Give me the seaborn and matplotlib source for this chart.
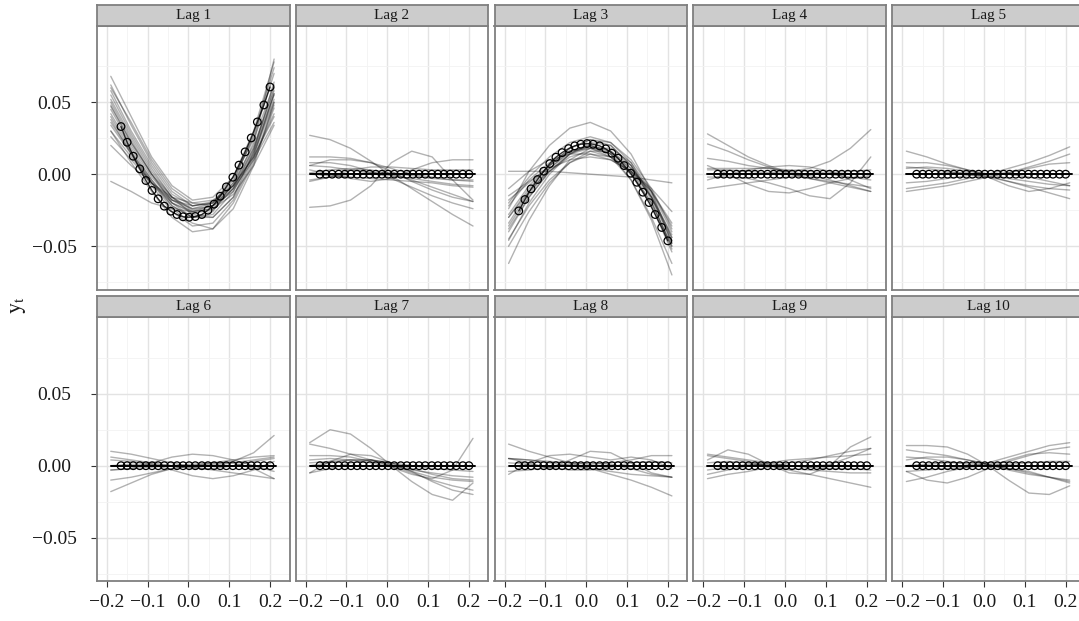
import numpy as np
import pandas as pd
import matplotlib
matplotlib.use("Agg")
import matplotlib.pyplot as plt
import seaborn as sns
from matplotlib.ticker import FixedLocator

sns.set_style("white")
plt.rcParams["font.family"] = ["Liberation Serif", "DejaVu Serif"]
plt.rcParams["mathtext.fontset"] = "stix"

# ---------------- data ----------------
panel_titles = ["Lag 1", "Lag 2", "Lag 3", "Lag 4", "Lag 5",
                "Lag 6", "Lag 7", "Lag 8", "Lag 9", "Lag 10"]

circle_x = [-0.165, -0.150, -0.135, -0.119, -0.104, -0.089, -0.074, -0.059,
            -0.043, -0.028, -0.013, 0.002, 0.017, 0.033, 0.048, 0.063,
            0.078, 0.093, 0.109, 0.124, 0.139, 0.154, 0.169, 0.185, 0.200]

lag1_est = [0.0331, 0.0222, 0.0125, 0.0037, -0.0044, -0.0113, -0.0171, -0.0222,
            -0.0257, -0.0280, -0.0296, -0.0299, -0.0294, -0.0280, -0.0250, -0.0208,
            -0.0153, -0.0088, -0.0021, 0.0063, 0.0155, 0.0252, 0.0363, 0.0481, 0.0606]
lag3_est = [-0.0255, -0.0176, -0.0102, -0.0037, 0.0021, 0.0074, 0.0118, 0.0150,
            0.0178, 0.0197, 0.0208, 0.0213, 0.0208, 0.0197, 0.0176, 0.0146,
            0.0111, 0.0060, 0.0007, -0.0056, -0.0125, -0.0197, -0.0280, -0.0370, -0.0463]
zero_est = [0.0] * 25

flat_line_x = [-0.19, 0.215]
flat_line_y = [0.0, 0.0]

curve_x = [-0.19, -0.14, -0.09, -0.04, 0.01, 0.06, 0.11, 0.16, 0.21]

lag1_curves = [
    [0.068, 0.040, 0.012, -0.008, -0.018, -0.016, -0.002, 0.024, 0.062],
    [0.062, 0.034, 0.008, -0.012, -0.022, -0.020, -0.006, 0.020, 0.058],
    [0.055, 0.028, 0.004, -0.016, -0.025, -0.022, -0.008, 0.018, 0.055],
    [0.048, 0.022, 0.000, -0.018, -0.026, -0.024, -0.010, 0.016, 0.052],
    [0.042, 0.018, -0.004, -0.022, -0.030, -0.028, -0.012, 0.014, 0.050],
    [0.038, 0.014, -0.008, -0.026, -0.036, -0.034, -0.018, 0.010, 0.048],
    [0.030, 0.008, -0.012, -0.030, -0.040, -0.038, -0.020, 0.008, 0.046],
    [0.020, 0.006, -0.006, -0.016, -0.020, -0.018, -0.008, 0.012, 0.040],
    [0.026, 0.010, -0.006, -0.018, -0.022, -0.019, -0.008, 0.012, 0.042],
    [0.045, 0.020, -0.002, -0.018, -0.024, -0.020, -0.004, 0.026, 0.070],
    [0.058, 0.030, 0.006, -0.014, -0.022, -0.020, -0.002, 0.030, 0.078],
    [0.036, 0.015, -0.004, -0.020, -0.027, -0.025, -0.010, 0.018, 0.060],
    [-0.005, -0.012, -0.020, -0.024, -0.026, -0.022, -0.010, 0.010, 0.036],
    [0.052, 0.026, 0.002, -0.016, -0.028, -0.030, -0.016, 0.016, 0.064],
    [0.040, 0.016, -0.006, -0.024, -0.034, -0.038, -0.024, 0.006, 0.050],
    [0.060, 0.036, 0.010, -0.010, -0.020, -0.022, -0.012, 0.014, 0.056],
    [0.034, 0.014, -0.006, -0.022, -0.030, -0.030, -0.016, 0.012, 0.056],
    [0.050, 0.024, 0.000, -0.020, -0.030, -0.026, -0.006, 0.028, 0.074],
    [0.047, 0.022, 0.000, -0.016, -0.024, -0.022, -0.008, 0.022, 0.080],
    [0.030, 0.012, -0.006, -0.020, -0.026, -0.024, -0.014, 0.006, 0.034],
]
lag2_curves = [
    [0.027, 0.024, 0.018, 0.009, -0.001, -0.010, -0.019, -0.028, -0.036],
    [-0.023, -0.022, -0.018, -0.008, 0.008, 0.016, 0.012, -0.004, -0.018],
    [0.012, 0.012, 0.011, 0.008, 0.002, -0.005, -0.011, -0.016, -0.019],
    [0.006, 0.010, 0.010, 0.008, 0.004, 0.000, -0.002, -0.004, -0.005],
    [0.003, 0.000, -0.003, -0.005, -0.003, 0.003, 0.008, 0.010, 0.010],
    [-0.005, -0.002, 0.003, 0.005, 0.005, 0.004, 0.003, 0.003, 0.003],
    [0.006, 0.005, 0.003, 0.001, -0.001, -0.003, -0.005, -0.007, -0.008],
    [0.000, -0.001, -0.002, -0.003, -0.004, -0.005, -0.006, -0.008, -0.009],
    [0.008, 0.008, 0.006, 0.002, -0.003, -0.009, -0.015, -0.020, -0.024],
    [-0.004, -0.002, 0.000, 0.001, 0.001, -0.001, -0.003, -0.004, -0.004],
    [0.001, 0.003, 0.004, 0.003, 0.000, -0.004, -0.009, -0.014, -0.019],
]
lag3_curves = [
    [-0.040, -0.016, 0.002, 0.014, 0.020, 0.016, 0.002, -0.020, -0.050],
    [-0.034, -0.012, 0.004, 0.015, 0.019, 0.014, 0.000, -0.022, -0.054],
    [-0.028, -0.008, 0.006, 0.016, 0.020, 0.016, 0.004, -0.016, -0.044],
    [-0.046, -0.020, 0.000, 0.014, 0.022, 0.020, 0.006, -0.018, -0.052],
    [-0.062, -0.032, -0.008, 0.010, 0.018, 0.018, 0.008, -0.012, -0.040],
    [-0.020, -0.002, 0.012, 0.022, 0.026, 0.022, 0.008, -0.016, -0.048],
    [-0.024, 0.002, 0.020, 0.032, 0.036, 0.030, 0.014, -0.012, -0.048],
    [0.002, 0.002, 0.002, 0.001, 0.000, -0.001, -0.002, -0.004, -0.006],
    [-0.015, -0.005, 0.004, 0.010, 0.012, 0.010, 0.002, -0.012, -0.034],
    [-0.036, -0.014, 0.004, 0.016, 0.020, 0.014, -0.004, -0.032, -0.070],
    [-0.030, -0.010, 0.006, 0.018, 0.024, 0.020, 0.006, -0.016, -0.046],
    [-0.045, -0.022, -0.004, 0.008, 0.014, 0.012, 0.002, -0.016, -0.042],
    [-0.010, 0.002, 0.010, 0.014, 0.014, 0.010, 0.002, -0.010, -0.026],
    [-0.030, -0.012, 0.002, 0.012, 0.016, 0.012, 0.000, -0.020, -0.050],
    [-0.038, -0.016, 0.002, 0.014, 0.018, 0.012, -0.004, -0.030, -0.062],
    [-0.018, -0.006, 0.006, 0.018, 0.024, 0.022, 0.010, -0.010, -0.038],
    [-0.050, -0.026, -0.006, 0.008, 0.016, 0.016, 0.006, -0.014, -0.044],
    [-0.022, -0.004, 0.008, 0.016, 0.018, 0.014, 0.004, -0.012, -0.036],
]
lag4_curves = [
    [0.028, 0.020, 0.012, 0.006, 0.001, -0.003, -0.006, -0.009, -0.012],
    [0.021, 0.016, 0.010, 0.005, 0.000, -0.003, -0.005, -0.007, -0.009],
    [-0.010, -0.008, -0.006, -0.004, -0.002, 0.000, 0.001, 0.002, 0.003],
    [0.003, 0.003, 0.002, 0.001, 0.002, 0.004, 0.009, 0.018, 0.031],
    [0.006, 0.000, -0.007, -0.012, -0.013, -0.010, -0.006, -0.003, -0.001],
    [-0.002, -0.002, -0.003, -0.006, -0.010, -0.015, -0.017, -0.006, 0.012],
    [0.011, 0.009, 0.006, 0.004, 0.002, -0.001, -0.004, -0.008, -0.012],
    [0.004, 0.004, 0.004, 0.004, 0.003, 0.002, 0.000, -0.002, -0.004],
    [-0.004, 0.000, 0.003, 0.005, 0.006, 0.005, 0.002, -0.004, -0.010],
]
lag5_curves = [
    [0.016, 0.012, 0.007, 0.003, -0.001, -0.005, -0.009, -0.013, -0.017],
    [0.008, 0.008, 0.006, 0.003, 0.000, -0.003, -0.005, -0.007, -0.008],
    [-0.010, -0.008, -0.006, -0.003, 0.000, 0.004, 0.008, 0.013, 0.019],
    [-0.012, -0.010, -0.008, -0.005, -0.002, 0.001, 0.005, 0.009, 0.014],
    [0.005, 0.004, 0.002, 0.000, -0.002, -0.005, -0.008, -0.010, -0.011],
    [0.000, 0.000, 0.001, 0.001, -0.002, -0.008, -0.012, -0.010, -0.006],
    [0.004, 0.005, 0.004, 0.002, 0.000, 0.001, 0.004, 0.007, 0.008],
    [-0.006, -0.005, -0.003, -0.001, 0.000, 0.000, -0.002, -0.005, -0.008],
]
lag6_curves = [
    [-0.018, -0.012, -0.006, -0.002, 0.000, 0.001, 0.003, 0.009, 0.021],
    [0.010, 0.008, 0.005, 0.002, -0.001, -0.003, -0.005, -0.007, -0.009],
    [-0.003, -0.002, 0.002, 0.006, 0.008, 0.007, 0.004, 0.000, -0.004],
    [-0.010, -0.008, -0.005, -0.002, 0.000, 0.002, 0.004, 0.006, 0.007],
    [0.004, 0.003, 0.001, -0.003, -0.007, -0.009, -0.007, -0.003, 0.003],
    [0.006, 0.004, 0.002, 0.000, -0.002, -0.002, 0.000, 0.003, 0.005],
    [0.000, 0.001, 0.001, 0.000, -0.001, 0.000, 0.002, 0.004, 0.006],
    [-0.003, -0.002, -0.001, 0.000, 0.001, 0.002, 0.002, -0.002, -0.009],
]
lag7_curves = [
    [0.016, 0.025, 0.022, 0.012, 0.000, -0.011, -0.020, -0.024, -0.012],
    [0.015, 0.012, 0.008, 0.004, 0.000, -0.005, -0.010, -0.014, -0.017],
    [-0.005, 0.003, 0.008, 0.007, 0.002, -0.004, -0.008, -0.010, -0.011],
    [0.004, 0.005, 0.004, 0.002, -0.001, -0.006, -0.009, -0.003, 0.019],
    [0.007, 0.007, 0.006, 0.003, 0.000, -0.003, -0.005, -0.007, -0.008],
    [-0.005, -0.002, 0.002, 0.004, 0.002, -0.002, -0.006, -0.009, -0.010],
    [0.002, 0.003, 0.004, 0.004, 0.001, -0.004, -0.011, -0.017, -0.020],
    [0.000, 0.002, 0.004, 0.004, 0.002, 0.000, -0.002, -0.003, -0.004],
]
lag8_curves = [
    [0.015, 0.010, 0.006, 0.002, -0.002, -0.006, -0.010, -0.015, -0.021],
    [-0.006, 0.002, 0.007, 0.008, 0.006, 0.004, 0.006, 0.004, -0.002],
    [0.005, 0.002, -0.002, 0.004, 0.010, 0.009, 0.002, -0.005, -0.008],
    [0.005, 0.004, 0.003, 0.002, 0.001, 0.002, 0.004, 0.007, 0.007],
    [0.005, 0.004, 0.002, 0.000, -0.002, -0.004, -0.006, -0.007, -0.008],
    [-0.004, -0.003, -0.001, 0.001, 0.002, 0.001, -0.002, -0.006, -0.008],
    [0.002, 0.001, -0.001, -0.003, -0.003, -0.001, 0.002, 0.003, 0.002],
]
lag9_curves = [
    [0.004, 0.011, 0.008, 0.001, -0.005, -0.006, 0.000, 0.013, 0.020],
    [-0.009, -0.006, -0.004, -0.001, 0.002, 0.004, 0.007, 0.010, 0.012],
    [0.007, 0.005, 0.003, 0.000, -0.003, -0.006, -0.009, -0.012, -0.015],
    [-0.006, -0.003, 0.000, 0.002, 0.004, 0.005, 0.006, 0.007, 0.008],
    [0.008, 0.006, 0.004, 0.002, 0.000, -0.001, -0.002, -0.002, -0.003],
    [-0.003, -0.001, 0.001, 0.001, 0.000, -0.001, 0.001, 0.006, 0.012],
    [0.002, 0.003, 0.002, 0.000, -0.002, -0.003, -0.004, -0.005, -0.005],
]
lag10_curves = [
    [0.014, 0.014, 0.013, 0.008, 0.000, -0.010, -0.019, -0.020, -0.014],
    [0.011, 0.009, 0.007, 0.004, 0.001, -0.002, -0.005, -0.008, -0.011],
    [-0.011, -0.008, -0.004, -0.001, 0.002, 0.006, 0.010, 0.014, 0.016],
    [-0.004, -0.010, -0.012, -0.008, -0.002, 0.004, 0.008, 0.009, 0.008],
    [-0.004, -0.003, -0.002, -0.001, 0.000, 0.001, 0.002, 0.003, 0.003],
    [0.006, 0.005, 0.003, 0.001, 0.000, -0.002, -0.004, -0.008, -0.012],
    [0.004, 0.006, 0.006, 0.004, 0.001, -0.003, -0.006, -0.008, -0.010],
    [0.000, 0.001, 0.002, 0.002, 0.001, 0.003, 0.007, 0.011, 0.013],
]

all_curves = [lag1_curves, lag2_curves, lag3_curves, lag4_curves, lag5_curves,
              lag6_curves, lag7_curves, lag8_curves, lag9_curves, lag10_curves]
all_est = [lag1_est, zero_est, lag3_est, zero_est, zero_est,
           zero_est, zero_est, zero_est, zero_est, zero_est]

x_major = [-0.2, -0.1, 0.0, 0.1, 0.2]
x_minor = [-0.15, -0.05, 0.05, 0.15]
y_major = [-0.05, 0.0, 0.05]
y_minor = [-0.075, -0.025, 0.025, 0.075]
x_labels = ["\u22120.2", "\u22120.1", "0.0", "0.1", "0.2"]
y_labels = ["\u22120.05", "0.00", "0.05"]

# ---------------- layout ----------------
W, H = 1079, 621
fig = plt.figure(figsize=(W / 100, H / 100), dpi=100)

col_left = [96.7 + 198.9 * i for i in range(5)]
pw = 192.8
row_top = [25.5, 317.0]
ph = 264.0
strip_h = 21.0

xlim = (-0.2245, 0.2477)
ylim = (-0.0801, 0.1033)

border = "#7F7F7F"

for k in range(10):
    r, c = divmod(k, 5)
    L, T = col_left[c], row_top[r]
    ax = fig.add_axes([L / W, 1 - (T + ph) / H, pw / W, ph / H])
    sax = fig.add_axes([L / W, 1 - T / H, pw / W, strip_h / H])

    # grey bootstrap curves
    rows = []
    for j, cv in enumerate(all_curves[k]):
        for xv, yv in zip(curve_x, cv):
            rows.append({"x": xv, "y": yv, "curve": j})
    df = pd.DataFrame(rows)
    sns.lineplot(data=df, x="x", y="y", units="curve", estimator=None,
                 color="black", alpha=0.3, linewidth=1.0, ax=ax, legend=False,
                 zorder=2)

    # black reference line
    if all_est[k] is zero_est:
        sns.lineplot(x=flat_line_x, y=flat_line_y, color="black", linewidth=1.4,
                     ax=ax, zorder=3)
    else:
        sns.lineplot(x=circle_x, y=all_est[k], color="black", linewidth=1.0,
                     alpha=0.8, ax=ax, zorder=3)

    # open circles
    sns.scatterplot(x=circle_x, y=all_est[k], ax=ax, s=30, marker="o",
                    zorder=4, legend=False)
    coll = ax.collections[-1]
    coll.set_facecolor("none")
    coll.set_edgecolor("black")
    coll.set_linewidth(0.9)

    ax.set_xlim(*xlim)
    ax.set_ylim(*ylim)
    ax.xaxis.set_major_locator(FixedLocator(x_major))
    ax.xaxis.set_minor_locator(FixedLocator(x_minor))
    ax.yaxis.set_major_locator(FixedLocator(y_major))
    ax.yaxis.set_minor_locator(FixedLocator(y_minor))
    ax.grid(which="major", color="#E3E3E3", linewidth=1.0)
    ax.grid(which="minor", color="#F3F3F3", linewidth=0.6)
    ax.set_axisbelow(True)
    ax.set_xlabel("")
    ax.set_ylabel("")
    for sp in ax.spines.values():
        sp.set_color(border)
        sp.set_linewidth(1.3)

    ax.tick_params(which="minor", length=0)
    ax.tick_params(which="major", length=4.5, width=0.8, color="#333333",
                   labelsize=14, labelcolor="#1A1A1A")
    if r == 1:
        ax.set_xticks(x_major)
        ax.set_xticklabels(x_labels)
        ax.tick_params(axis="x", bottom=True, pad=5)
    else:
        ax.tick_params(axis="x", bottom=False, labelbottom=False)
    if c == 0:
        ax.set_yticks(y_major)
        ax.set_yticklabels(y_labels)
        for t in ax.get_yticklabels():
            t.set_horizontalalignment("center")
        ax.tick_params(axis="y", left=True, pad=26)
    else:
        ax.tick_params(axis="y", left=False, labelleft=False)

    # strip
    sax.set_facecolor("#CCCCCC")
    sax.set_xticks([])
    sax.set_yticks([])
    for sp in sax.spines.values():
        sp.set_color(border)
        sp.set_linewidth(1.3)
    sax.text(0.5, 0.5, panel_titles[k], ha="center", va="center",
             fontsize=11, color="#1A1A1A", transform=sax.transAxes)

fig.text(18 / W, 1 - 305 / H, r"$\mathrm{y}_\mathrm{t}$", rotation=90,
         ha="center", va="center", fontsize=16, color="#1A1A1A")

fig.savefig("out.png", dpi=100)
